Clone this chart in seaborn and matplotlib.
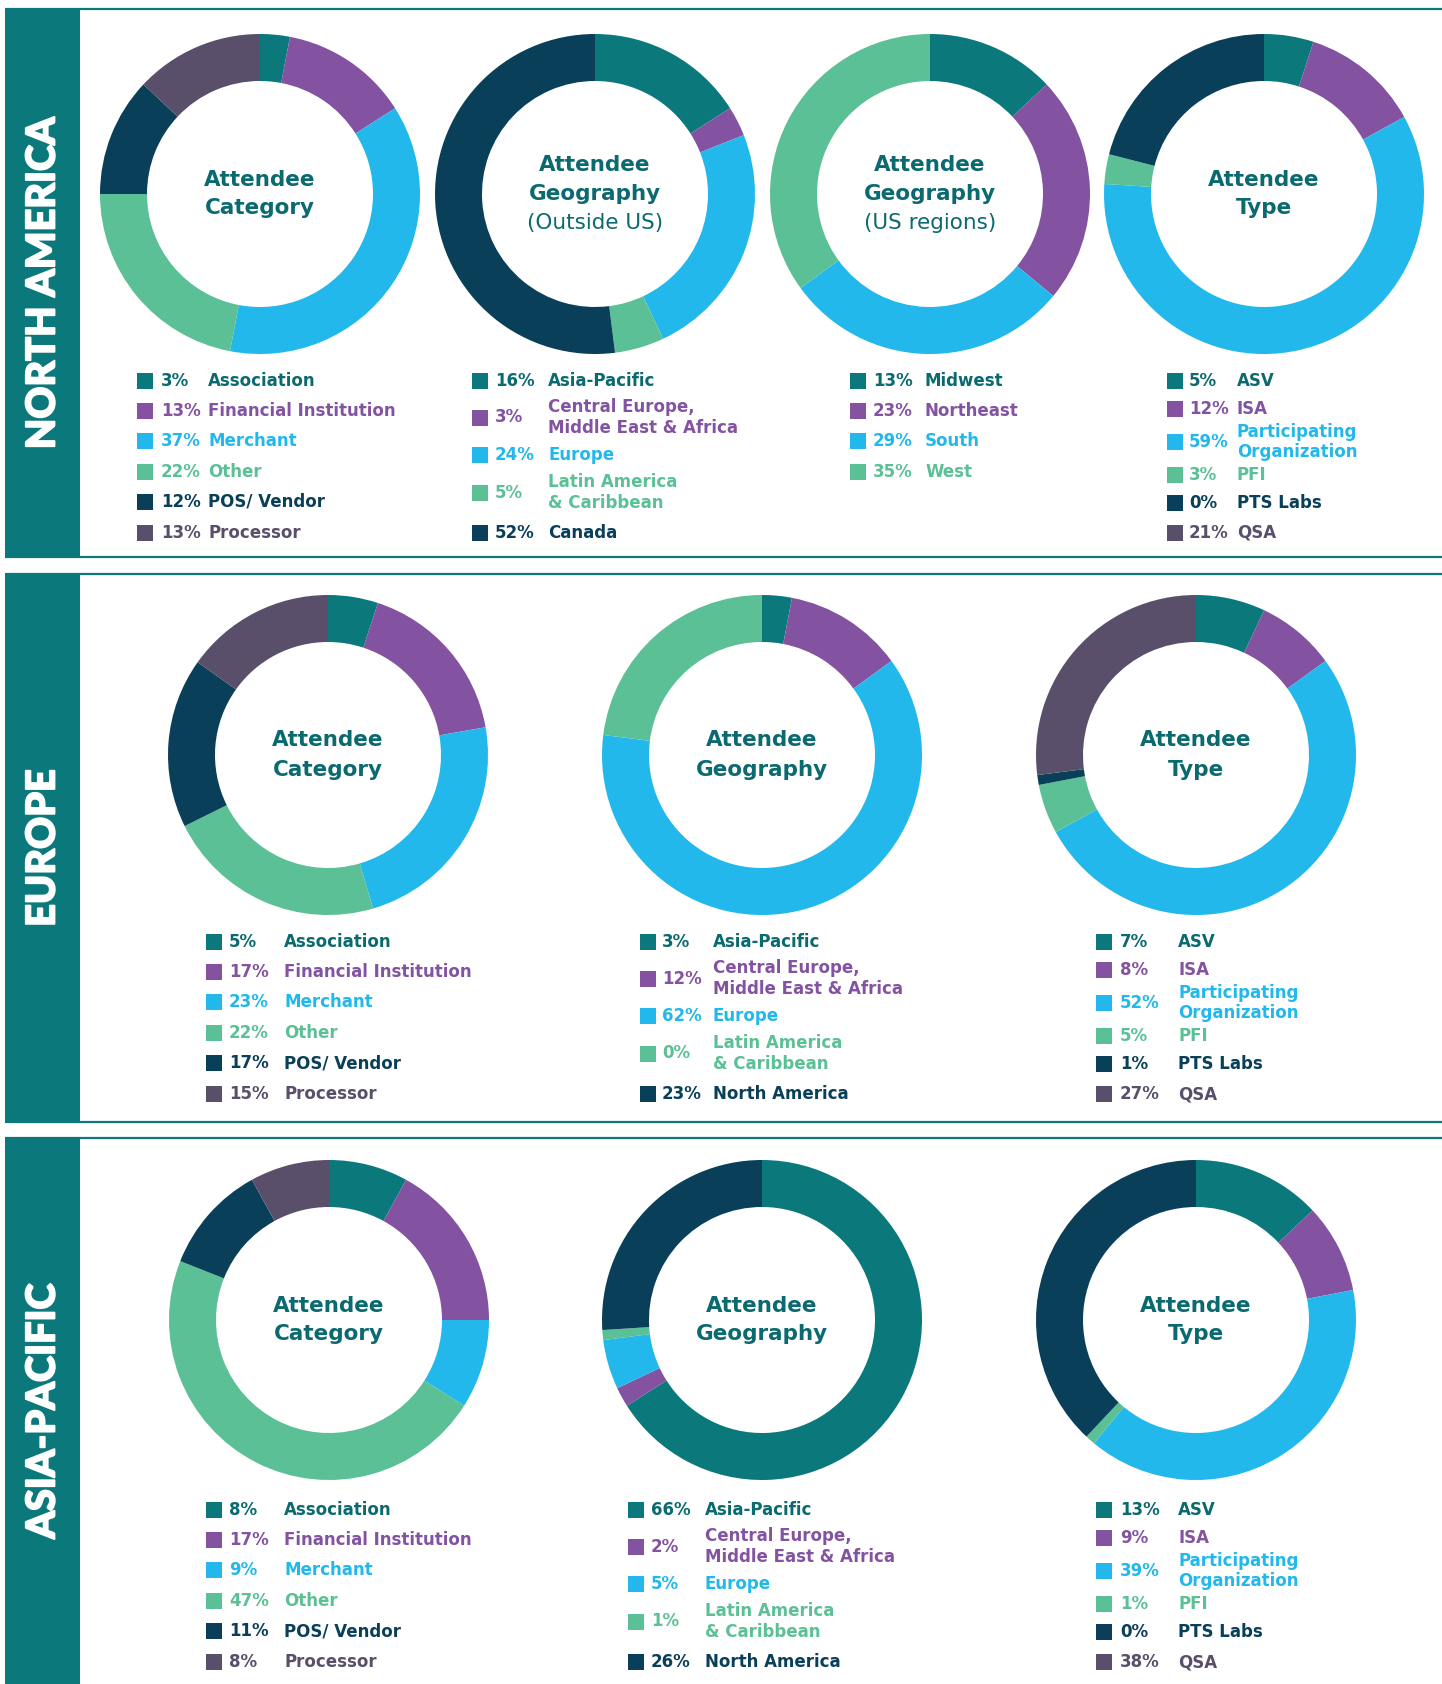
"""Attendee breakdown donuts by region"""
import seaborn as sns
import matplotlib.pyplot as plt
import matplotlib.patheffects as pe
from matplotlib.patches import Rectangle

sns.set_theme(style='white')
plt.rcParams['font.family'] = ['DejaVu Sans']

TEAL, TEAL_TXT = '#0b787c', '#0a6a70'
PURPLE, BLUE, GREEN = '#8353a1', '#22b8eb', '#5bc095'
NAVY, GRAY = '#0a3f5a', '#5a4f6a'
BASE = [TEAL, PURPLE, BLUE, GREEN, NAVY, GRAY]
TXT = [TEAL_TXT, PURPLE, BLUE, GREEN, NAVY, GRAY]

# ---- data ----
cat_labels = ['Association', 'Financial Institution', 'Merchant', 'Other',
              'POS/ Vendor', 'Processor']
geo_labels_na = ['Asia-Pacific', 'Central Europe,\nMiddle East & Africa', 'Europe',
                 'Latin America\n& Caribbean', 'Canada']
geo_labels = ['Asia-Pacific', 'Central Europe,\nMiddle East & Africa', 'Europe',
              'Latin America\n& Caribbean', 'North America']
us_labels = ['Midwest', 'Northeast', 'South', 'West']
type_labels = ['ASV', 'ISA', 'Participating\nOrganization', 'PFI', 'PTS Labs', 'QSA']

na_cat = [3, 13, 37, 22, 12, 13]
na_geo = [16, 3, 24, 5, 52]
na_us = [13, 23, 29, 35]
na_type = [5, 12, 59, 3, 0, 21]

eu_cat = [5, 17, 23, 22, 17, 15]
eu_geo = [3, 12, 62, 0, 23]
eu_type = [7, 8, 52, 5, 1, 27]

ap_cat = [8, 17, 9, 47, 11, 8]
ap_geo = [66, 2, 5, 1, 26]
ap_type = [13, 9, 39, 1, 0, 38]

# ---- layout (pixels, top-down) ----
W, H = 1442, 1684
R, RING = 160, 47
ROWS = {
    'cat': [0, 30, 60, 91, 121, 152],
    'geo': [0, 36.5, 74, 111.5, 152],
    'type': [0, 28, 61, 94, 122, 152],
    'us': [0, 30, 60, 91],
}


def Y(y):
    return H - y


fig = plt.figure(figsize=(W / 100, H / 100), dpi=100, facecolor='white')
ax = fig.add_axes([0, 0, 1, 1])


def donut(vals, wcols, cx, cy, title, sub=None):
    ax.pie(vals, colors=wcols, startangle=90, counterclock=False, radius=R,
           center=(cx, Y(cy)), wedgeprops=dict(width=RING, linewidth=0))
    lines = title.split('\n') + ([sub] if sub else [])
    n = len(lines)
    for i, ln in enumerate(lines):
        dy = (i - (n - 1) / 2) * 29
        ax.text(cx, Y(cy + dy), ln, ha='center', va='center', fontsize=15.5,
                color=TEAL_TXT, fontweight='normal' if (sub and i == n - 1) else 'bold')


def legend(vals, labels, kind, sx, px, lx, y0):
    for i, (v, lab) in enumerate(zip(vals, labels)):
        y = Y(y0 + ROWS[kind][i])
        ax.add_patch(Rectangle((sx, y - 8), 16, 16, facecolor=BASE[i], lw=0))
        ax.text(px, y, f'{v}%', ha='left', va='center', fontsize=12,
                fontweight='bold', color=TXT[i])
        ax.text(lx, y, lab, ha='left', va='center', fontsize=12,
                fontweight='bold', color=TXT[i], linespacing=1.15)


sections = [
    ('NORTH AMERICA', 9, 557),
    ('EUROPE', 574, 1122),
    ('ASIA-PACIFIC', 1138, 1684),
]
for name, top, bot in sections:
    ax.add_patch(Rectangle((5, Y(bot)), 75, bot - top, facecolor=TEAL, lw=0))
    ax.plot([5, W], [Y(top), Y(top)], color=TEAL, lw=1.6, solid_capstyle='butt')
    if bot < H:
        ax.plot([5, W], [Y(bot), Y(bot)], color=TEAL, lw=1.6, solid_capstyle='butt')
    ax.text(43, Y((top + bot) / 2), name, rotation=90, ha='center', va='center',
            color='white', fontsize=28.5, fontweight='black', family='Lato',
            path_effects=[pe.withStroke(linewidth=1.3, foreground='white')])

# North America
donut(na_cat, BASE, 260, 194, 'Attendee\nCategory')
donut(na_geo, BASE[:5], 595, 194, 'Attendee\nGeography', '(Outside US)')
donut(na_us, BASE[:4], 930, 194, 'Attendee\nGeography', '(US regions)')
donut(na_type, [TEAL, PURPLE, BLUE, GREEN, NAVY, NAVY], 1264, 194, 'Attendee\nType')
legend(na_cat, cat_labels, 'cat', 137, 161, 208, 381)
legend(na_geo, geo_labels_na, 'geo', 472, 495, 548, 381)
legend(na_us, us_labels, 'us', 850, 873, 925, 381)
legend(na_type, type_labels, 'type', 1167, 1189, 1237, 381)

# Europe
donut(eu_cat, BASE, 328, 755, 'Attendee\nCategory')
donut(eu_geo, [TEAL, PURPLE, BLUE, GREEN, GREEN], 762, 755, 'Attendee\nGeography')
donut(eu_type, BASE, 1196, 755, 'Attendee\nType')
legend(eu_cat, cat_labels, 'cat', 206, 229, 284, 942)
legend(eu_geo, geo_labels, 'geo', 640, 662, 713, 942)
legend(eu_type, type_labels, 'type', 1096, 1120, 1178, 942)

# Asia-Pacific
donut(ap_cat, BASE, 329, 1320, 'Attendee\nCategory')
donut(ap_geo, BASE[:5], 762, 1320, 'Attendee\nGeography')
donut(ap_type, [TEAL, PURPLE, BLUE, GREEN, NAVY, NAVY], 1196, 1320, 'Attendee\nType')
legend(ap_cat, cat_labels, 'cat', 206, 229, 284, 1510)
legend(ap_geo, geo_labels, 'geo', 628, 651, 705, 1510)
legend(ap_type, type_labels, 'type', 1096, 1120, 1178, 1510)

ax.set_xlim(0, W)
ax.set_ylim(0, H)
ax.set_aspect('auto')
ax.axis('off')

fig.savefig('out.png', dpi=100, facecolor='white')
